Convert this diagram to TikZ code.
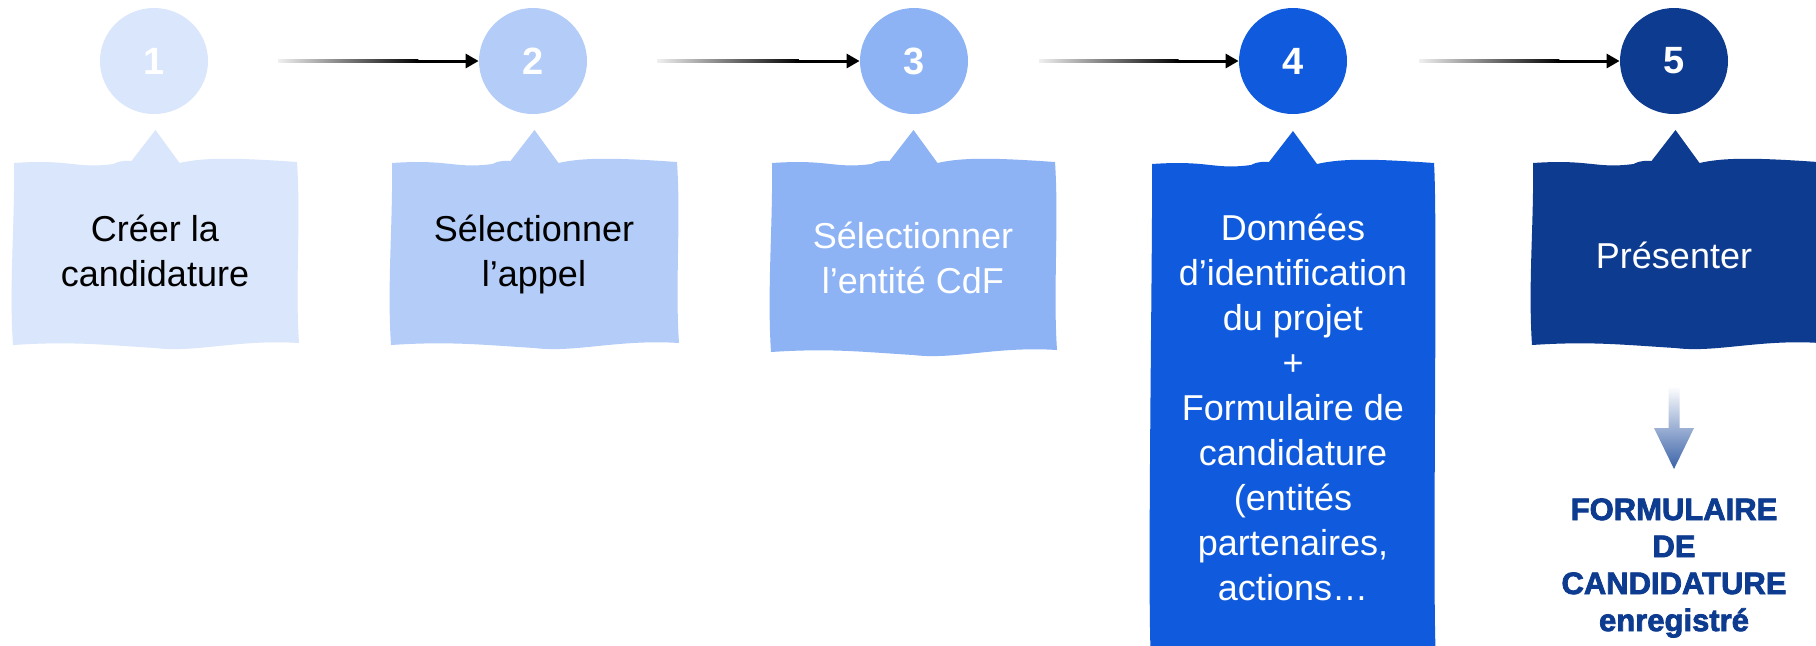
\documentclass[tikz,border=0pt]{standalone}
\usepackage{fontspec}
\setmainfont{Liberation Sans}
\newfontfamily\heavyfont{Liberation Sans Bold}[FakeBold=2.5]
\usetikzlibrary{shapes.geometric,arrows.meta,calc}
\definecolor{colA}{HTML}{DAE6FB}
\definecolor{colB}{HTML}{B3CCF8}
\definecolor{colC}{HTML}{8DB3F5}
\definecolor{colD}{HTML}{105BDD}
\definecolor{colE}{HTML}{0D3B8F}
\definecolor{arrowblue}{HTML}{3A62A8}
\newcommand\wavybox[5]{% #1 colour, #2 left, #3 right, #4 top, #5 bottom
  \pgfmathsetmacro\wmid{(#2+#3)/2}
  \fill[#1] ({#2+2},{#4+1}) .. controls ({#2+60},{#4-3}) and ({\wmid-80},{#4+7}) .. ({\wmid-42},{#4+2})
    .. controls ({\wmid-34},{#4-2}) and ({\wmid-30},{#4-1}) .. ({\wmid-24},{#4-1})
    -- ({\wmid},{#4-32}) -- ({\wmid+24},{#4+1})
    .. controls ({\wmid+50},{#4-5}) and ({#3-60},{#4-4}) .. ({#3-2},{#4})
    .. controls ({#3+2},{#4+60}) and ({#3-4},{#5-60}) .. ({#3},{#5-2})
    .. controls ({#3-60},{#5-6}) and ({\wmid+40},{#5+8}) .. ({\wmid},{#5+3})
    .. controls ({\wmid-50},{#5}) and ({#2+60},{#5-4}) .. ({#2+1},{#5})
    .. controls ({#2-3},{#5-60}) and ({#2+3},{#4+60}) .. cycle;
}
% gradient overlay on the tail of a connector
\newcommand\fadetail[2]{%
  \shade[left color=black!6, right color=black]
    ($(#1)+(0,-1.6)$) rectangle ($(#1)!0.7!(#2.west)+(0,1.6)$);
}
\tikzset{
  circ/.style={ellipse, minimum width=54pt, minimum height=53pt, inner sep=0pt,
    text=white, font=\bfseries\fontsize{19}{21}\selectfont},
  lbl/.style={align=center, inner sep=0pt, font=\fontsize{18}{22.5}\selectfont},
  flow/.style={line width=1.5pt, black, -{Triangle[length=6.5pt,width=7pt]}},
  result/.style={align=center, inner sep=0pt, text=colE,
    font=\heavyfont\fontsize{15.5}{18.5}\selectfont}
}
\begin{document}
\begin{tikzpicture}[x=0.5pt,y=-0.5pt]
\useasboundingbox (0,0) rectangle (1816,645);
\clip (0,0) rectangle (1816,645);
\fill[white] (0,0) rectangle (1816,645);

% boxes
\wavybox{colA}{12}{299}{162}{345}
\wavybox{colB}{390}{679}{162}{345}
\wavybox{colC}{770}{1057}{162}{352}
\wavybox{colD}{1150}{1436}{163}{660}
\wavybox{colE}{1531}{1820}{162}{345}

% circles
\node[circ, fill=colA] (c1) at (154,61) {1};
\node[circ, fill=colB] (c2) at (533,61) {2};
\node[circ, fill=colC] (c3) at (914,61) {3};
\node[circ, fill=colD] (c4) at (1293,61) {4};
\node[circ, fill=colE] (c5) at (1674,61) {5};

% arrows
\coordinate (s1) at (278,61);
\coordinate (s2) at (657,61);
\coordinate (s3) at (1039,61);
\coordinate (s4) at (1419,61);
\draw[flow] (s1) -- (c2);
\draw[flow] (s2) -- (c3);
\draw[flow] (s3) -- (c4);
\draw[flow] (s4) -- (c5);
\fadetail{s1}{c2}
\fadetail{s2}{c3}
\fadetail{s3}{c4}
\fadetail{s4}{c5}

% texts
\node[lbl, text=black] (t1) at (155,251) {Créer la\\candidature};
\node[lbl, text=black] (t2) at (534,254) {Sélectionner\\l’appel};
\node[lbl, text=white] (t3) at (913,258) {Sélectionner\\l’entité CdF};
\node[lbl, text=white] (t4) at (1293,407) {Données\\d’identification\\du projet\\+\\Formulaire de\\candidature\\(entités\\partenaires,\\actions…};
\node[lbl, text=white] (t5) at (1674,255) {Présenter};

% down arrow
\coordinate (d1) at (1674,386);
\shade[top color=white, bottom color=arrowblue]
  ($(d1)+(-5.5,0)$) -- ($(d1)+(5.5,0)$) -- ($(d1)+(5.5,42)$) -- ($(d1)+(20,42)$)
  -- ($(d1)+(0,83)$) -- ($(d1)+(-20,42)$) -- ($(d1)+(-5.5,42)$) -- cycle;

\node[result] (res) at (1674,568) {FORMULAIRE\\DE\\CANDIDATURE\\enregistré};
\end{tikzpicture}
\end{document}
